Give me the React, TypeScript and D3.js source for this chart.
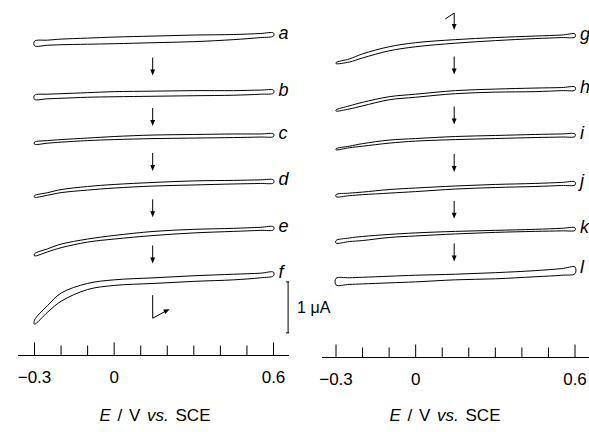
import React from "react";
import * as d3 from "d3";

// potential grid (V vs. SCE) on which every voltammogram was read
const potentials = [-0.3, -0.25, -0.2, -0.1, 0, 0.15, 0.3, 0.45, 0.55, 0.6];

const leftLabels = ["a", "b", "c", "d", "e", "f"];
const rightLabels = ["g", "h", "i", "j", "k", "l"];

// stacking offset of each trace (uA, relative to the first one)
const leftOffsets = [0, -1.12, -1.98, -2.88, -3.8, -4.69];
const rightOffsets = [0, -1.04, -1.96, -2.9, -3.8, -4.57];

// forward scan, uA relative to the 0.6 V turning point
const forwardLeft = [
  [-0.16, -0.14, -0.12, -0.1, -0.08, -0.06, -0.04, -0.03, -0.01, 0],
  [-0.1, -0.08, -0.07, -0.05, -0.03, -0.02, -0.01, -0.01, 0, 0],
  [-0.16, -0.13, -0.11, -0.08, -0.05, -0.02, -0.01, 0, 0, 0],
  [-0.31, -0.25, -0.19, -0.13, -0.09, -0.05, -0.02, -0.01, 0, 0],
  [-0.53, -0.43, -0.34, -0.24, -0.17, -0.09, -0.05, -0.03, -0.01, 0],
  [-0.94, -0.65, -0.41, -0.22, -0.15, -0.11, -0.07, -0.04, -0.02, 0],
];
// reverse scan
const reverseLeft = [
  [-0.25, -0.24, -0.23, -0.22, -0.21, -0.19, -0.17, -0.13, -0.09, -0.06],
  [-0.18, -0.17, -0.16, -0.14, -0.13, -0.12, -0.11, -0.1, -0.08, -0.06],
  [-0.2, -0.18, -0.16, -0.13, -0.11, -0.09, -0.08, -0.07, -0.06, -0.05],
  [-0.34, -0.3, -0.25, -0.2, -0.16, -0.12, -0.1, -0.08, -0.07, -0.06],
  [-0.57, -0.49, -0.41, -0.3, -0.24, -0.17, -0.12, -0.09, -0.07, -0.06],
  [-1.02, -0.78, -0.57, -0.34, -0.26, -0.22, -0.18, -0.15, -0.11, -0.07],
];
const forwardRight = [
  [-0.56, -0.49, -0.39, -0.25, -0.17, -0.11, -0.07, -0.04, -0.02, 0],
  [-0.45, -0.37, -0.3, -0.19, -0.14, -0.07, -0.04, -0.02, -0.01, 0],
  [-0.29, -0.24, -0.19, -0.12, -0.09, -0.05, -0.03, -0.01, 0, 0],
  [-0.25, -0.22, -0.2, -0.15, -0.12, -0.08, -0.05, -0.03, -0.01, 0],
  [-0.25, -0.2, -0.17, -0.13, -0.1, -0.07, -0.05, -0.03, -0.01, 0],
  [-0.22, -0.21, -0.2, -0.18, -0.16, -0.14, -0.11, -0.07, -0.03, 0],
];
const reverseRight = [
  [-0.58, -0.55, -0.47, -0.33, -0.25, -0.18, -0.13, -0.09, -0.07, -0.06],
  [-0.47, -0.43, -0.37, -0.25, -0.2, -0.13, -0.1, -0.09, -0.07, -0.06],
  [-0.31, -0.27, -0.24, -0.18, -0.14, -0.11, -0.09, -0.07, -0.06, -0.05],
  [-0.29, -0.27, -0.25, -0.22, -0.19, -0.14, -0.11, -0.09, -0.07, -0.06],
  [-0.3, -0.27, -0.25, -0.19, -0.16, -0.12, -0.09, -0.07, -0.06, -0.05],
  [-0.35, -0.34, -0.33, -0.31, -0.29, -0.25, -0.23, -0.19, -0.16, -0.13],
];

const tickValues = [-0.3, -0.2, -0.1, 0, 0.1, 0.2, 0.3, 0.4, 0.5, 0.6];
const labelledTicks = [-0.3, 0, 0.6];

const arrowE = 0.145; // potential where the time arrows sit
const font = "'Liberation Sans', Arial, Helvetica, sans-serif";

function Head({ x, y, angle }) {
  // small filled arrow head pointing along angle (radians)
  const l = 6, w = 2.4;
  const c = Math.cos(angle), s = Math.sin(angle);
  const bx = x - c * l, by = y - s * l;
  return <path d={`M${x},${y}L${bx - s * w},${by + c * w}L${bx + s * w},${by - c * w}Z`} fill="#000" />;
}

function DownArrow({ x, y1, y2 }) {
  return (
    <g>
      <line x1={x} y1={y1} x2={x} y2={y2 - 4} stroke="#000" strokeWidth={1} />
      <Head x={x} y={y2} angle={Math.PI / 2} />
    </g>
  );
}

function Panel({ labels, offsets, fwd, rev, range, yTop, axisY, axisFrom, axisTo, titleX, scaleBar, topArrow, bentArrow }) {
  const x = d3.scaleLinear().domain([-0.3, 0.6]).range(range);
  const y = d3.scaleLinear().domain([0, -1]).range([yTop, yTop + 51]);

  const loop = d3.line<[number, number]>()
    .x(d => x(d[0]))
    .y(d => y(d[1]))
    .curve(d3.curveCatmullRomClosed);

  const traces = labels.map((lab, i) => {
    const up = potentials.map((e, j) => [e, offsets[i] + fwd[i][j]] as [number, number]);
    const down = potentials.map((e, j) => [e, offsets[i] + rev[i][j]] as [number, number]).reverse();
    return { lab, d: loop(up.concat(down)), tipY: y(offsets[i]) };
  });

  const ax = x(arrowE);

  return (
    <g fontFamily={font}>
      {traces.map(t => (
        <g key={t.lab}>
          <path d={t.d} fill="#fff" stroke="#000" strokeWidth={1} />
          <text x={x(0.6) + 5} y={t.tipY + 5.5} fontSize={18} fontStyle="italic">{t.lab}</text>
        </g>
      ))}
      {traces.slice(1).map((t, i) => {
        const mid = (traces[i].tipY + t.tipY) / 2 + 5;
        return <DownArrow key={t.lab} x={ax} y1={mid - 9} y2={mid + 9} />;
      })}
      {topArrow && (
        <g>
          <path d={`M${ax - 9},${traces[0].tipY - 15}L${ax},${traces[0].tipY - 21}L${ax},${traces[0].tipY - 8}`} fill="none" stroke="#000" strokeWidth={1} />
          <Head x={ax} y={traces[0].tipY - 4} angle={Math.PI / 2} />
        </g>
      )}
      {bentArrow && (() => {
        const t = traces[traces.length - 1].tipY;
        const x2 = ax + 17, y2 = t + 37;
        const ang = Math.atan2(-8, 17);
        return (
          <g>
            <path d={`M${ax},${t + 23}L${ax},${t + 46}L${x2 - 3},${y2 + 1.4}`} fill="none" stroke="#000" strokeWidth={1} />
            <Head x={x2} y={y2} angle={ang} />
          </g>
        );
      })()}
      {scaleBar && (() => {
        const bx = x(0.655);
        const yb0 = y(-4.88), yb1 = y(-5.88);
        return (
          <g>
            <line x1={bx} x2={bx} y1={yb0} y2={yb1} stroke="#000" strokeWidth={1} />
            <line x1={bx - 2} x2={bx + 1} y1={yb0} y2={yb0} stroke="#000" strokeWidth={1} />
            <line x1={bx - 2} x2={bx + 1} y1={yb1} y2={yb1} stroke="#000" strokeWidth={1} />
            <text x={bx + 9} y={(yb0 + yb1) / 2 + 6} fontSize={16}>1 μA</text>
          </g>
        );
      })()}
      {/* potential axis */}
      <line x1={axisFrom} x2={axisTo} y1={axisY} y2={axisY} stroke="#000" strokeWidth={1} />
      {tickValues.map(v => {
        const major = labelledTicks.includes(v);
        return <line key={v} x1={x(v)} x2={x(v)} y1={axisY} y2={axisY - (major ? 13 : 10)} stroke="#000" strokeWidth={1} />;
      })}
      {labelledTicks.map(v => (
        <text key={v} x={x(v)} y={axisY + 27} fontSize={17} textAnchor="middle">
          {v === 0 ? "0" : d3.format(".1f")(v).replace("-", "\u2212")}
        </text>
      ))}
      <text x={titleX} y={421} fontSize={17} textAnchor="middle" wordSpacing={2}>
        <tspan fontStyle="italic">E</tspan> / V <tspan fontStyle="italic">vs.</tspan> SCE
      </text>
    </g>
  );
}

export default function App() {
  return (
    <svg width={589} height={432} style={{ position: "absolute", left: 0, top: 0, background: "#fff" }}>
      <Panel labels={leftLabels} offsets={leftOffsets} fwd={forwardLeft} rev={reverseLeft}
        range={[34.5, 273.5]} yTop={33} axisY={355.5} axisFrom={18} axisTo={289} titleX={155}
        scaleBar bentArrow />
      <Panel labels={rightLabels} offsets={rightOffsets} fwd={forwardRight} rev={reverseRight}
        range={[336, 575]} yTop={34} axisY={357.5} axisFrom={322} axisTo={589} titleX={445}
        topArrow />
    </svg>
  );
}
